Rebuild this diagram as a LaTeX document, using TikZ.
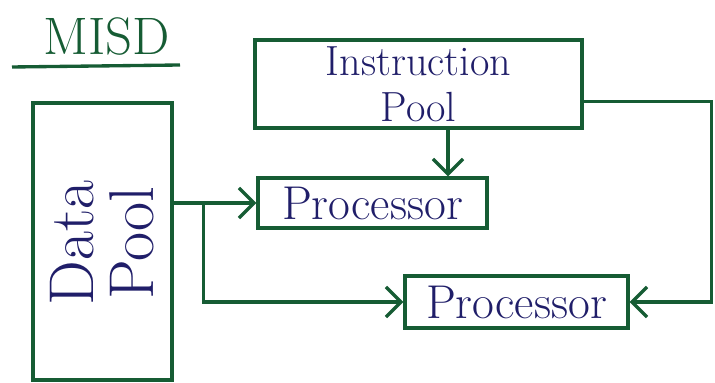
\documentclass[tikz,border=0pt]{standalone}
\usetikzlibrary{arrows.meta}
\definecolor{pen}{RGB}{22,92,52}
\definecolor{ink}{RGB}{32,30,105}

\begin{document}
\begin{tikzpicture}[>={Straight Barb[length=3mm,width=6mm]},
  box/.style={draw=pen, line width=1.9pt, inner sep=0pt, text=ink},
  wire/.style={draw=pen, line width=1.9pt}]
\useasboundingbox (0,0) rectangle (14.3,7.66);

\node [text=pen, font=\fontsize{30}{30}\selectfont] (misd) at (2.14,6.92) {MISD};
\draw [wire] (0.24,6.32) -- (3.6,6.36);

% the pools
\node [box, minimum width=2.78cm, minimum height=5.54cm] (dpool) at (2.05,2.83) {};
\node [text=ink, rotate=90, align=center, font=\fontsize{36}{34}\selectfont] (dtext) at (2.05,2.8) {Data\\Pool};
\node [box, minimum width=6.54cm, minimum height=1.76cm, align=center,
  font=\fontsize{24}{26}\selectfont] (ipool) at (8.37,5.98) {Instruction\\Pool};

% processors
\node [box, minimum width=4.58cm, minimum height=1cm, font=\fontsize{27}{27}\selectfont] (proc1) at (7.45,3.6) {Processor};
\node [box, minimum width=4.46cm, minimum height=1.04cm, font=\fontsize{27}{27}\selectfont] (proc2) at (10.33,1.62) {Processor};

\coordinate (split) at ([xshift=0.6cm]dpool.east |- proc1.west);

\draw [wire,->] ([xshift=0.59cm]ipool.south) -- ([xshift=0.59cm]ipool.south |- proc1.north);
\draw [wire,->] (dpool.east |- proc1.west) -- (proc1.west);
\draw [wire,->] (split) |- (proc2.west);
\draw [wire,->] ([yshift=-0.35cm]ipool.east) -- ++(2.56,0) |- (proc2.east);
\end{tikzpicture}
\end{document}
